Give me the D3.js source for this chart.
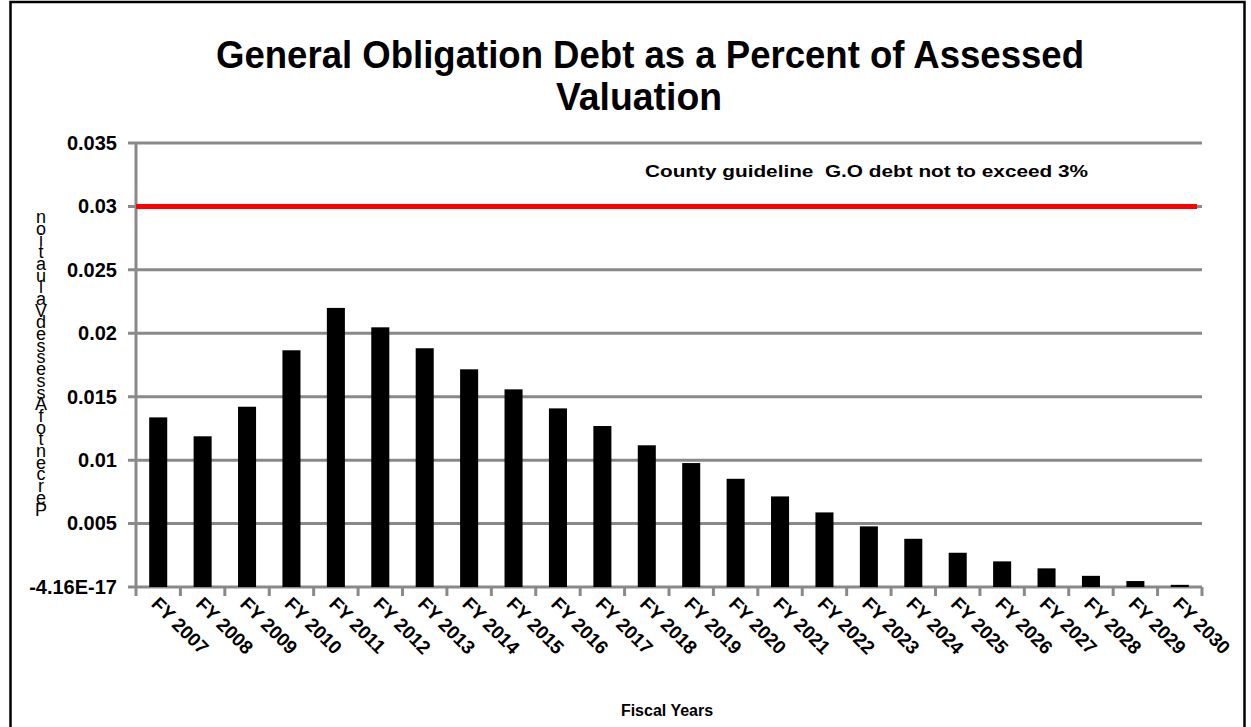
<!DOCTYPE html>
<html>
<head>
<meta charset="utf-8">
<script src="https://cdn.jsdelivr.net/npm/d3@7"></script>
<style>
  html, body { margin: 0; padding: 0; background: #fff; }
  svg { display: block; font-family: "Liberation Sans", Arial, sans-serif; }
</style>
</head>
<body>
<svg id="chart" width="1251" height="727"></svg>
<script>
// Fiscal years on the category axis
const years = ["FY 2007","FY 2008","FY 2009","FY 2010","FY 2011","FY 2012","FY 2013","FY 2014",
  "FY 2015","FY 2016","FY 2017","FY 2018","FY 2019","FY 2020","FY 2021","FY 2022",
  "FY 2023","FY 2024","FY 2025","FY 2026","FY 2027","FY 2028","FY 2029","FY 2030"];

// G.O. debt as a share of assessed valuation
const debtRatio = [0.01337,0.01188,0.01421,0.01866,0.02200,0.02047,0.01882,0.01716,
  0.01558,0.01408,0.01269,0.01117,0.00977,0.00853,0.00714,0.00588,
  0.00478,0.00380,0.00270,0.00202,0.00147,0.00088,0.00047,0.00017];

// County guideline ceiling
const guideline = 0.03;

// Value-axis ticks and their printed labels
const yTicks = [0,0.005,0.01,0.015,0.02,0.025,0.03,0.035];
const yTickLabels = ["-4.16E-17","0.005","0.01","0.015","0.02","0.025","0.03","0.035"];

const titleLines = ["General Obligation Debt as a Percent of Assessed","Valuation"];
const yTitle = "Percent of Assessed Valuation";
const xTitle = "Fiscal Years";
const guideText = "County guideline  G.O debt not to exceed 3%";

const svg = d3.select("#chart");
const plotLeft = 136, plotRight = 1202, plotTop = 143, plotBottom = 587;
const grid = "#898989";

// outer frame
svg.append("rect").attr("x", 10.5).attr("y", 2).attr("width", 1234).attr("height", 740)
  .attr("fill", "none").attr("stroke", "#000").attr("stroke-width", 2.5);

const x = d3.scaleBand().domain(years).range([plotLeft, plotRight]).paddingInner(0.594).paddingOuter(0.297);
const xEdge = d3.scaleLinear().domain([0, years.length]).range([plotLeft, plotRight]);
const y = d3.scaleLinear().domain([0, 0.035]).range([plotBottom, plotTop]);

// left tick labels
const yAxis = d3.axisLeft(y).tickValues(yTicks)
  .tickFormat((d, i) => yTickLabels[i]).tickSize(0);
const ya = svg.append("g").attr("transform", `translate(${plotLeft},0)`).call(yAxis);
ya.select(".domain").remove();
ya.selectAll("text").attr("x", -19).attr("fill", "#000")
  .style("font-size", "20px").style("font-weight", "bold").style("font-family", "Liberation Sans, Arial, sans-serif");

// gridlines (extending left as tick marks)
svg.append("g").selectAll("line").data(yTicks).join("line")
  .attr("x1", plotLeft - 8).attr("x2", plotRight)
  .attr("y1", d => y(d)).attr("y2", d => y(d))
  .attr("stroke", grid).attr("stroke-width", 3);

// vertical value axis
svg.append("line").attr("x1", plotLeft).attr("x2", plotLeft).attr("y1", plotTop).attr("y2", plotBottom + 1)
  .attr("stroke", grid).attr("stroke-width", 3);

// category ticks
svg.append("g").selectAll("line").data(d3.range(years.length + 1)).join("line")
  .attr("x1", d => xEdge(d)).attr("x2", d => xEdge(d))
  .attr("y1", plotBottom).attr("y2", plotBottom + 9)
  .attr("stroke", grid).attr("stroke-width", 3);

// bars
svg.append("g").selectAll("rect").data(debtRatio).join("rect")
  .attr("x", (d, i) => x(years[i])).attr("width", x.bandwidth())
  .attr("y", d => y(d)).attr("height", d => y(0) - y(d))
  .attr("fill", "#000");

// guideline
svg.append("line").attr("x1", plotLeft).attr("x2", plotRight - 5)
  .attr("y1", y(guideline)).attr("y2", y(guideline))
  .attr("stroke", "#ff0000").attr("stroke-width", 5);
svg.append("text").attr("x", 645).attr("y", 177).text(guideText)
  .attr("textLength", 443).attr("lengthAdjust", "spacingAndGlyphs")
  .style("font-size", "17px").style("font-weight", "bold").style("white-space", "pre");

// category labels, slanted
svg.append("g").selectAll("text").data(years).join("text")
  .attr("transform", d => `translate(${x(d) + x.bandwidth() / 2 - 8},605) rotate(45)`)
  .text(d => d).style("font-size", "19px").style("font-weight", "bold");

// titles
svg.append("text").attr("x", 650).attr("y", 68).attr("text-anchor", "middle")
  .text(titleLines[0]).attr("textLength", 868).attr("lengthAdjust", "spacingAndGlyphs")
  .style("font-size", "38px").style("font-weight", "bold");
svg.append("text").attr("x", 639).attr("y", 110).attr("text-anchor", "middle")
  .text(titleLines[1]).attr("textLength", 166).attr("lengthAdjust", "spacingAndGlyphs")
  .style("font-size", "38px").style("font-weight", "bold");

svg.append("text").attr("x", 667).attr("y", 716).attr("text-anchor", "middle")
  .text(xTitle).style("font-size", "16px").style("font-weight", "bold");

// value-axis title: letters set upright in a vertical run, read from the bottom up
const stacked = yTitle.replace(/ /g, "").split("").reverse().join("");
svg.append("text").attr("x", 41).attr("y", 207)
  .style("writing-mode", "vertical-rl").style("text-orientation", "upright")
  .style("letter-spacing", "-8.3px").style("font-size", "18px")
  .text(stacked);
</script>
</body>
</html>
